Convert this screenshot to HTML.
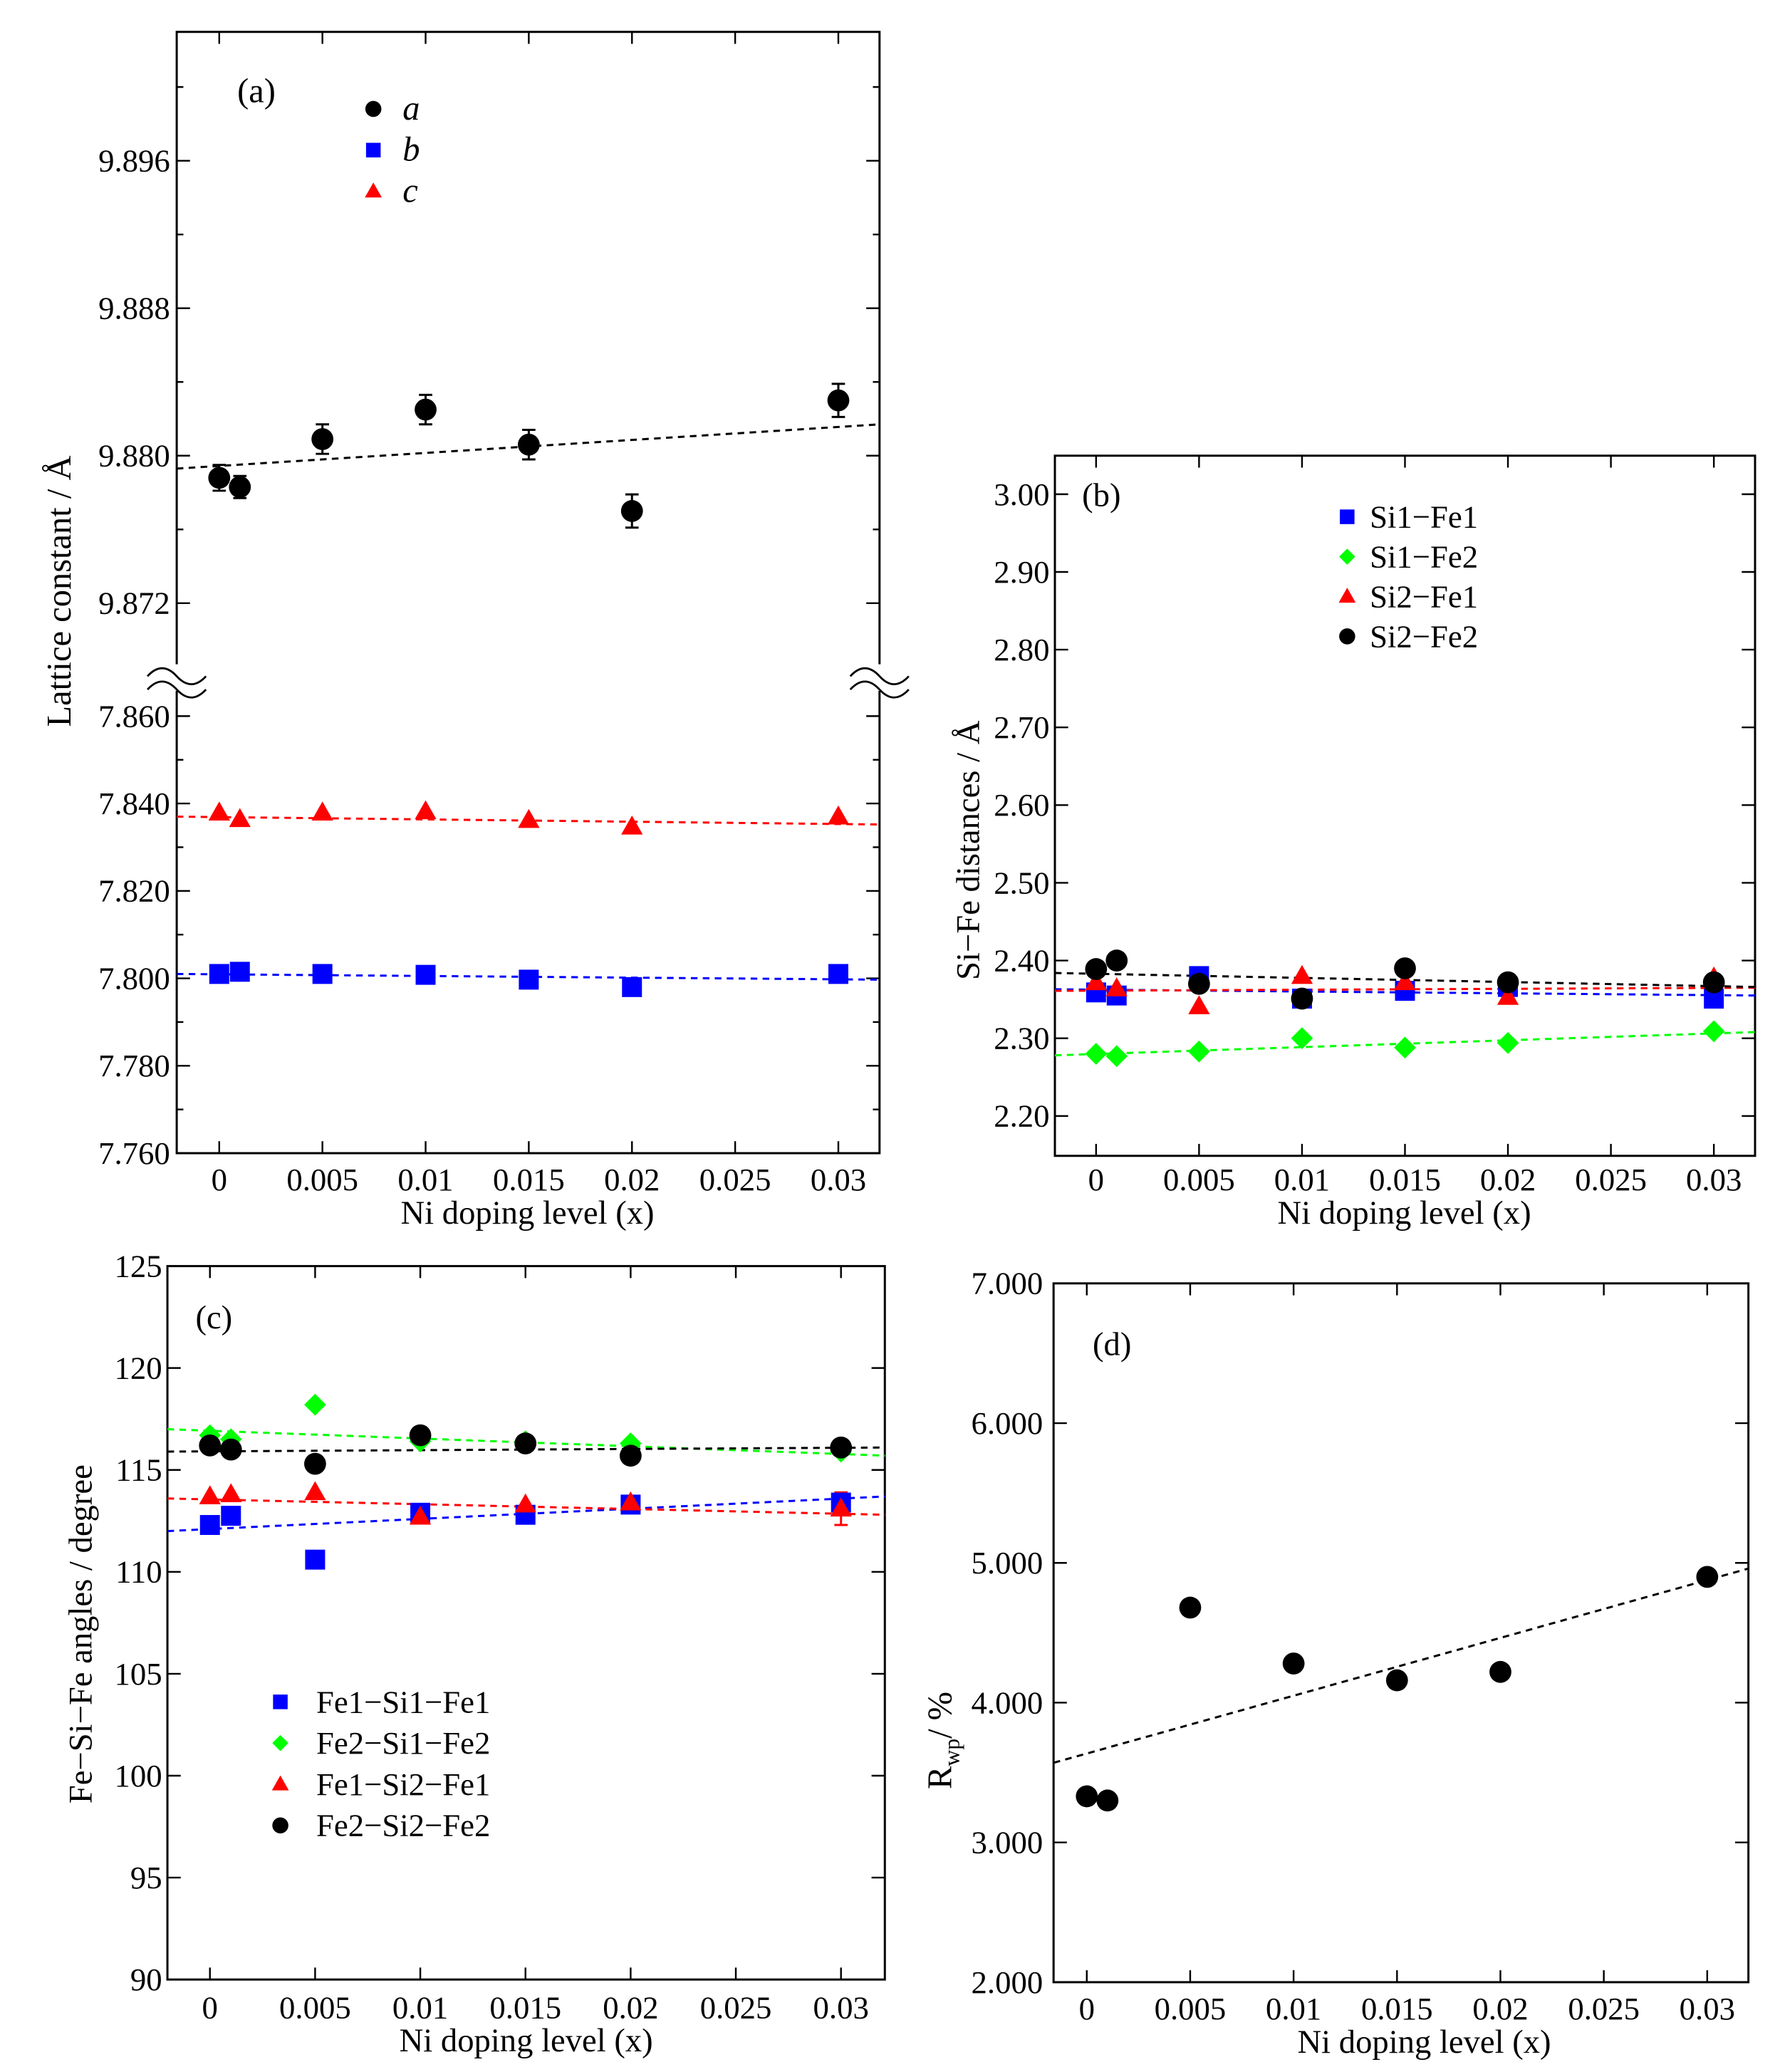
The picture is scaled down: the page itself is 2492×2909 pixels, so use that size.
<!DOCTYPE html>
<html><head><meta charset="utf-8"><style>
html,body{margin:0;padding:0;background:#fff}
svg{display:block}
text{font-family:"Liberation Serif",serif;fill:#000}
</style></head><body>
<svg id="fig" width="2492" height="2909" viewBox="0 0 1336 1559.6" xmlns="http://www.w3.org/2000/svg"></svg>
<script>
// ---------- data ----------
const xs = [0, 0.001, 0.005, 0.01, 0.015, 0.02, 0.03];
const xTickVals = [0, 0.005, 0.01, 0.015, 0.02, 0.025, 0.03];
const xTickLabels = ["0", "0.005", "0.01", "0.015", "0.02", "0.025", "0.03"];
// panel a
const aVals = [9.8788, 9.8783, 9.8809, 9.8825, 9.8806, 9.8770, 9.8830];
const aErr = [0.0007, 0.0006, 0.0008, 0.0008, 0.0008, 0.0009, 0.0009];
const bVals = [7.8010, 7.8015, 7.8010, 7.8008, 7.7997, 7.7980, 7.8010];
const cVals = [7.8379, 7.8364, 7.8379, 7.8382, 7.8362, 7.8347, 7.8370];
const aFit = [9.8793, 9.8817];
const bFit = [7.8010, 7.7997];
const cFit = [7.8370, 7.8352];
const aUpperTicks = [9.896, 9.888, 9.880, 9.872];
const aLowerTicks = [7.860, 7.840, 7.820, 7.800, 7.780, 7.760];
// panel b
const si1fe1 = [2.359, 2.355, 2.380, 2.351, 2.361, 2.366, 2.351];
const si1fe2 = [2.280, 2.277, 2.283, 2.300, 2.288, 2.294, 2.309];
const si2fe1 = [2.372, 2.364, 2.341, 2.380, 2.372, 2.353, 2.378];
const si2fe2 = [2.389, 2.400, 2.370, 2.351, 2.390, 2.372, 2.372];
const bFits = [[2.363, 2.355], [2.278, 2.308], [2.361, 2.365], [2.384, 2.366]];
const bYTicks = [2.20, 2.30, 2.40, 2.50, 2.60, 2.70, 2.80, 2.90, 3.00];
// panel c
const fe1si1 = [112.3, 112.75, 110.6, 112.9, 112.8, 113.3, 113.4];
const fe2si1 = [116.7, 116.5, 118.2, 116.4, 116.4, 116.3, 115.9];
const fe1si2 = [113.7, 113.8, 113.9, 112.7, 113.3, 113.4, 113.1];
const fe2si2 = [116.2, 116.0, 115.3, 116.7, 116.3, 115.7, 116.1];
const cFits = [[112.0, 113.7], [117.0, 115.7], [113.6, 112.8], [115.9, 116.1]];
const cYTicks = [90, 95, 100, 105, 110, 115, 120, 125];
// panel d
const rwp = [3.33, 3.30, 4.68, 4.28, 4.16, 4.22, 4.90];
const rwpFit = [3.57, 4.96];
const dYTicks = [2, 3, 4, 5, 6, 7];

// ---------- helpers ----------
const svg = document.getElementById('fig');
const NS = 'http://www.w3.org/2000/svg';
const TICK_FS = 24, TITLE_FS = 25;
function el(tag, attrs, parent) {
  const e = document.createElementNS(NS, tag);
  for (const k in attrs) e.setAttribute(k, attrs[k]);
  (parent || svg).appendChild(e);
  return e;
}
function txt(str, x, y, size, anchor, parent, extra) {
  const t = el('text', Object.assign({x: x, y: y, 'font-size': size, 'text-anchor': anchor || 'middle'}, extra || {}), parent);
  t.textContent = str;
  return t;
}
function marker(type, cx, cy, sz, color, parent) {
  let m;
  if (type === 'circle') m = el('circle', {cx: cx, cy: cy, r: sz * 0.55, fill: color}, parent);
  else if (type === 'square') m = el('rect', {x: cx - sz / 2, y: cy - sz / 2, width: sz, height: sz, fill: color}, parent);
  else if (type === 'tri') m = el('polygon', {points: `${cx},${cy - sz * 0.6} ${cx - sz * 0.58},${cy + sz * 0.42} ${cx + sz * 0.58},${cy + sz * 0.42}`, fill: color}, parent);
  else m = el('polygon', {points: `${cx},${cy - sz * 0.55} ${cx + sz * 0.55},${cy} ${cx},${cy + sz * 0.55} ${cx - sz * 0.55},${cy}`, fill: color}, parent);
  return m;
}
function linMap(d0, d1, p0, p1) { return v => p0 + (v - d0) / (d1 - d0) * (p1 - p0); }

function xAxis(g, X, L, R, T, B, labelY, titleY, cx) {
  xTickVals.forEach((v, i) => {
    const x = X(v);
    el('line', {x1: x, y1: B, x2: x, y2: B - 9, stroke: '#000', 'stroke-width': 1.3}, g);
    el('line', {x1: x, y1: T, x2: x, y2: T + 9, stroke: '#000', 'stroke-width': 1.3}, g);
    const t = txt(xTickLabels[i], x, labelY, TICK_FS, 'middle', g);
    
    
  });
  const t = txt('Ni doping level (x)', cx, titleY, TITLE_FS, 'middle', g);
  
  
}
function yTick(g, y, L, R, label, labelX, len) {
  el('line', {x1: L, y1: y, x2: L + len, y2: y, stroke: '#000', 'stroke-width': 1.3}, g);
  el('line', {x1: R, y1: y, x2: R - len, y2: y, stroke: '#000', 'stroke-width': 1.3}, g);
  if (label !== null) {
    const t = txt(label, labelX, y + 8, TICK_FS, 'end', g);
    
    
  }
}
function box(g, L, R, T, B) {
  el('rect', {x: L, y: T, width: R - L, height: B - T, fill: 'none', stroke: '#000', 'stroke-width': 1.6}, g);
}
function fitLine(g, X, Y, xa, xb, f, color) {
  const l = el('line', {x1: X(xa), y1: Y(f[0]), x2: X(xb), y2: Y(f[1]), stroke: color, 'stroke-width': 1.6, 'stroke-dasharray': '5,4'}, g);
  
  
}
function series(g, X, Y, vals, type, sz, color, name) {
  const sg = el('g', {}, g);
  
  
  vals.forEach((v, i) => {
    const m = marker(type, X(xs[i]), Y(v), sz, color, sg);
    
    
  });
}
function legend(g, items, sx, tx, y0, dy, size, italic) {
  items.forEach((it, i) => {
    const y = y0 + i * dy;
    const m = marker(it[0], sx, y, 11, it[1], g);
    
    
    const t = txt(it[2], tx, y + 8, size, 'start', g, italic ? {'font-style': 'italic'} : {});
    
    
  });
}
function rotTitle(g, str, x, y, size, name) {
  const t = txt(str, x, y, size, 'middle', g, {transform: `rotate(-90 ${x} ${y})`});
  
  
  return t;
}

// ---------- panel (a) ----------
(function () {
  const g = el('g', {});
  
  
  const L = 133, R = 662, T = 24, B = 868;
  const X = linMap(0, 0.03, 165, 631);
  const Yu = linMap(9.880, 9.896, 343, 121);
  const Yl = linMap(7.760, 7.860, 868, 539);
  box(g, L, R, T, B);
  aUpperTicks.forEach(v => yTick(g, Yu(v), L, R, v.toFixed(3), 128, 10));
  [9.900, 9.892, 9.884, 9.876].forEach(v => yTick(g, Yu(v), L, R, null, 0, 5));
  aLowerTicks.forEach(v => yTick(g, Yl(v), L, R, v.toFixed(3), 128, 10));
  [7.850, 7.830, 7.810, 7.790, 7.770].forEach(v => yTick(g, Yl(v), L, R, null, 0, 5));
  [L, R].forEach(bx => {
    el('rect', {x: bx - 3, y: 500, width: 6, height: 20, fill: '#fff'}, g);
    [-5, 5].forEach(o => el('path', {d: `M${bx - 22},${510 + o + 4} q11,-12 22,0 t22,0`, fill: 'none', stroke: '#000', 'stroke-width': 1.5}, g));
  });
  xAxis(g, X, L, R, T, B, 896, 921, 397);
  rotTitle(g, 'Lattice constant / Å', 53, 445, 26, 'y-axis-title');
  fitLine(g, X, Yu, -0.00206, 0.032, aFit, '#000');
  fitLine(g, X, Yl, -0.00206, 0.032, cFit, '#f00');
  fitLine(g, X, Yl, -0.00206, 0.032, bFit, '#00f');
  aVals.forEach((v, i) => {
    const x = X(xs[i]), y1 = Yu(v + aErr[i]), y2 = Yu(v - aErr[i]);
    const e = el('path', {d: `M${x},${y1}V${y2}M${x - 5},${y1}h10M${x - 5},${y2}h10`, stroke: '#000', 'stroke-width': 1.6, fill: 'none'}, g);
    
    
  });
  series(g, X, Yu, aVals, 'circle', 15, '#000', 'series-a');
  series(g, X, Yl, bVals, 'square', 15, '#00f', 'series-b');
  series(g, X, Yl, cVals, 'tri', 14, '#f00', 'series-c');
  const pl = txt('(a)', 193, 77, 26, 'middle', g);
  
  
  legend(g, [['circle', '#000', 'a'], ['square', '#00f', 'b'], ['tri', '#f00', 'c']], 281, 303, 82, 31, 26, true);
})();

// ---------- panel (b) ----------
(function () {
  const g = el('g', {});
  
  
  const L = 794, R = 1321, T = 343, B = 870;
  const X = linMap(0, 0.03, 825, 1290);
  const Y = linMap(2.20, 3.00, 840, 372);
  box(g, L, R, T, B);
  bYTicks.forEach(v => yTick(g, Y(v), L, R, v.toFixed(2), 790, 10));
  xAxis(g, X, L, R, T, B, 896, 921, 1057);
  rotTitle(g, 'Si−Fe distances / Å', 737, 640, 25, 'y-axis-title');
  const cols = ['#00f', '#0f0', '#f00', '#000'];
  bFits.forEach((f, i) => fitLine(g, X, Y, -0.002, 0.032, f, cols[i]));
  series(g, X, Y, si1fe1, 'square', 15, '#00f', 'series-si1-fe1');
  series(g, X, Y, si1fe2, 'diamond', 15, '#0f0', 'series-si1-fe2');
  series(g, X, Y, si2fe1, 'tri', 14, '#f00', 'series-si2-fe1');
  series(g, X, Y, si2fe2, 'circle', 15, '#000', 'series-si2-fe2');
  const pl = txt('(b)', 829, 381, 25, 'middle', g);
  
  
  legend(g, [['square', '#00f', 'Si1−Fe1'], ['diamond', '#0f0', 'Si1−Fe2'], ['tri', '#f00', 'Si2−Fe1'], ['circle', '#000', 'Si2−Fe2']], 1014, 1031, 389, 30, 24, false);
})();

// ---------- panel (c) ----------
(function () {
  const g = el('g', {});
  
  
  const L = 126, R = 666, T = 953, B = 1490;
  const X = linMap(0, 0.03, 158, 633);
  const Y = linMap(90, 125, 1490, 953);
  box(g, L, R, T, B);
  cYTicks.forEach(v => yTick(g, Y(v), L, R, String(v), 122, 10));
  xAxis(g, X, L, R, T, B, 1519, 1544, 396);
  rotTitle(g, 'Fe−Si−Fe angles / degree', 69, 1230, 25, 'y-axis-title');
  const cols = ['#00f', '#0f0', '#f00', '#000'];
  cFits.forEach((f, i) => fitLine(g, X, Y, -0.00202, 0.0321, f, cols[i]));
  const ex = X(0.03);
  el('path', {d: `M${ex},${Y(113.9)}V${Y(112.3)}M${ex - 5},${Y(113.9)}h10M${ex - 5},${Y(112.3)}h10`, stroke: '#f00', 'stroke-width': 1.6, fill: 'none'}, g);
  series(g, X, Y, fe1si1, 'square', 15, '#00f', 'series-fe1-si1-fe1');
  series(g, X, Y, fe2si1, 'diamond', 15, '#0f0', 'series-fe2-si1-fe2');
  series(g, X, Y, fe2si2, 'circle', 15, '#000', 'series-fe2-si2-fe2');
  series(g, X, Y, fe1si2, 'tri', 14, '#f00', 'series-fe1-si2-fe1');
  const pl = txt('(c)', 161, 1000, 25, 'middle', g);
  
  
  legend(g, [['square', '#00f', 'Fe1−Si1−Fe1'], ['diamond', '#0f0', 'Fe2−Si1−Fe2'], ['tri', '#f00', 'Fe1−Si2−Fe1'], ['circle', '#000', 'Fe2−Si2−Fe2']], 211, 238, 1281, 31, 24, false);
})();

// ---------- panel (d) ----------
(function () {
  const g = el('g', {});
  
  
  const L = 793, R = 1316, T = 966, B = 1492;
  const X = linMap(0, 0.03, 818, 1285);
  const Y = linMap(2, 7, 1492, 966);
  box(g, L, R, T, B);
  dYTicks.forEach(v => yTick(g, Y(v), L, R, v.toFixed(3), 785, 10));
  xAxis(g, X, L, R, T, B, 1520, 1545, 1072);
  const t = el('text', {x: 716, y: 1310, 'font-size': 26, 'text-anchor': 'middle', transform: 'rotate(-90 716 1310)'}, g);
  
  
  t.innerHTML = 'R<tspan font-size="17" dy="6">wp</tspan><tspan dy="-6">/ %</tspan>';
  fitLine(g, X, Y, -0.0016, 0.032, rwpFit, '#000');
  series(g, X, Y, rwp, 'circle', 15, '#000', 'series-rwp');
  const pl = txt('(d)', 837, 1020, 25, 'middle', g);
  
  
})();
</script>
</body></html>
